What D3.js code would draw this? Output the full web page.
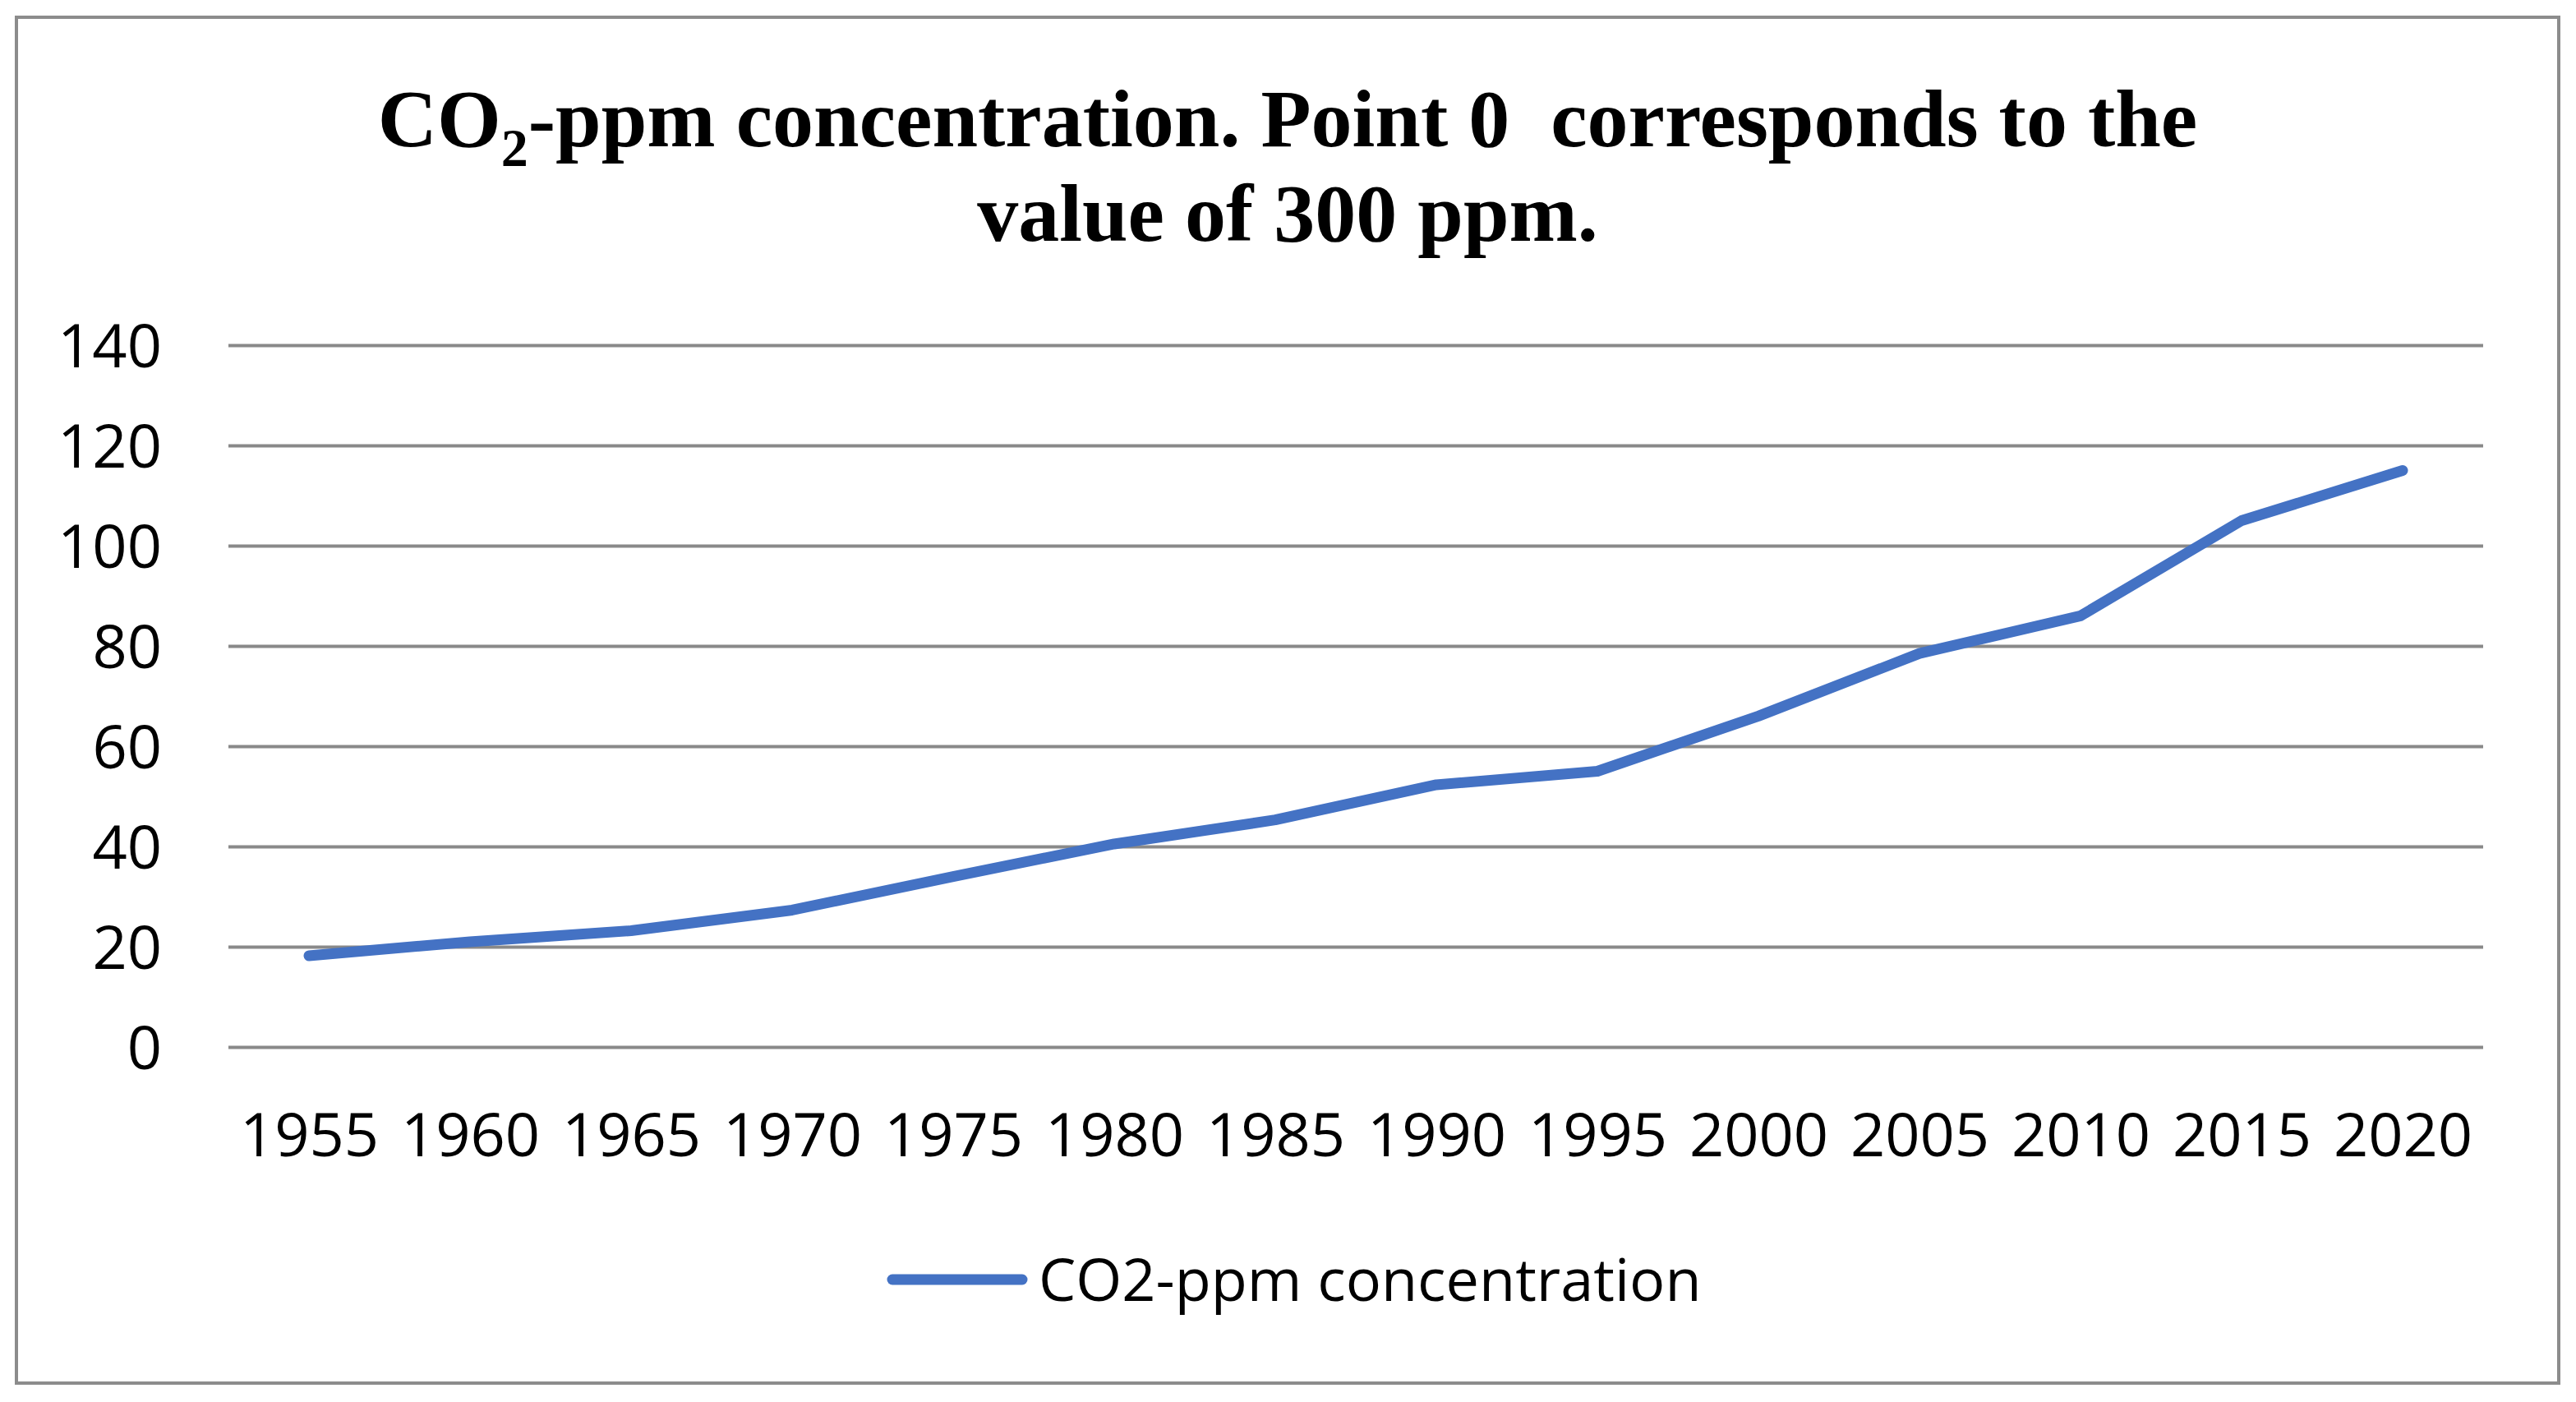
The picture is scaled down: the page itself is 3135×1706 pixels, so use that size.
<!DOCTYPE html>
<html>
<head>
<meta charset="utf-8">
<script src="https://cdn.jsdelivr.net/npm/d3@7"></script>
<style>
  body { margin: 0; background: #fff; }
  .tick text { font-family: "Open Sans", sans-serif; font-size: 74px; fill: #000; }
</style>
</head>
<body>
<script>
// Data
var years = ["1955","1960","1965","1970","1975","1980","1985","1990","1995","2000","2005","2010","2015","2020"];
var co2 = [18.2, 21, 23.2, 27.3, 34, 40.5, 45.3, 52.3, 55, 66, 78.5, 86, 105, 115];
var yTicks = [0, 20, 40, 60, 80, 100, 120, 140];
var seriesName = "CO2-ppm concentration";

var width = 3135, height = 1706;
var margin = {left: 278, right: 113, top: 420, bottom: 432}; // plot area 278..3022, 420..1274

var svg = d3.select("body").append("svg")
    .attr("width", width).attr("height", height);

svg.append("rect").attr("width", width).attr("height", height).attr("fill", "#fff");

// chart border
svg.append("rect")
    .attr("x", 20).attr("y", 21).attr("width", 3094).attr("height", 1662)
    .attr("fill", "none").attr("stroke", "#8c8c8c").attr("stroke-width", 4);

// Title
var title = svg.append("text")
    .attr("text-anchor", "middle")
    .attr("font-family", "'Liberation Serif', 'Times New Roman', serif")
    .attr("font-weight", "bold")
    .attr("font-size", 100)
    .attr("fill", "#000");
var t1 = title.append("tspan").attr("x", 1567).attr("y", 178);
t1.append("tspan").text("CO");
t1.append("tspan").attr("font-size", 66).attr("dy", 24).text("2");
t1.append("tspan").attr("dy", -24).text("-ppm concentration. Point 0\u00a0 corresponds to the");
title.append("tspan").attr("x", 1567).attr("y", 293).text("value of 300 ppm.");

// Scales
var x = d3.scalePoint()
    .domain(years)
    .range([margin.left, width - margin.right])
    .padding(0.5);
var y = d3.scaleLinear()
    .domain([0, 140])
    .range([height - margin.bottom, margin.top]);

// y axis + gridlines
var yAxis = svg.append("g")
    .attr("transform", "translate(" + margin.left + ",0)")
    .call(d3.axisLeft(y).tickValues(yTicks)
        .tickSize(-(width - margin.left - margin.right))
        .tickPadding(81));
yAxis.select(".domain").remove();
yAxis.selectAll(".tick line").attr("stroke", "#898989").attr("stroke-width", 4);
yAxis.selectAll(".tick text").attr("dy", "0.36em");

// x axis labels
var xAxis = svg.append("g")
    .attr("transform", "translate(0," + (height - margin.bottom) + ")")
    .call(d3.axisBottom(x).tickSize(0).tickPadding(80));
xAxis.select(".domain").remove();
xAxis.selectAll(".tick text").attr("dy", "0.72em");

// the line
var line = d3.line()
    .x(function(d, i){ return x(years[i]); })
    .y(function(d){ return y(d); });

svg.append("path")
    .attr("d", line(co2))
    .attr("fill", "none")
    .attr("stroke", "#4472C4")
    .attr("stroke-width", 13)
    .attr("stroke-linejoin", "round")
    .attr("stroke-linecap", "round");

// legend
var legend = svg.append("g");
legend.append("line")
    .attr("x1", 1086).attr("x2", 1244).attr("y1", 1557).attr("y2", 1557)
    .attr("stroke", "#4472C4").attr("stroke-width", 13).attr("stroke-linecap", "round");
legend.append("text")
    .attr("x", 1264).attr("y", 1583)
    .attr("font-family", "'Open Sans', sans-serif")
    .attr("font-size", 72)
    .attr("fill", "#000")
    .text(seriesName);
</script>
</body>
</html>
